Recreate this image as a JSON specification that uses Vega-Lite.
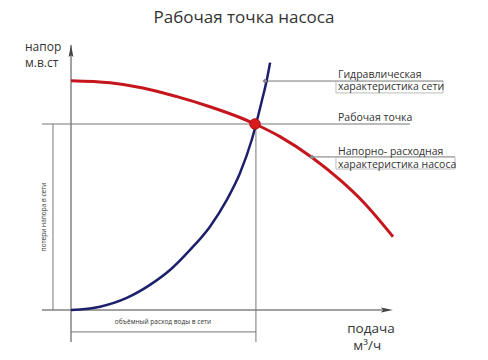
{
  "$schema": "https://vega.github.io/schema/vega-lite/v6.json",
  "width": 488,
  "height": 360,
  "autosize": {"type": "fit", "contains": "padding"},
  "padding": 0,
  "background": "white",
  "config": {"view": {"stroke": null}, "text": {"font": "Open Sans", "color": "#333"}},
  "datasets": {
    "segs": [
      {"k": "axis", "x": 0, "y": -1.72, "x2": 0, "y2": 14.25},
      {"k": "axis", "x": -1.58, "y": 0, "x2": 16.9, "y2": 0},
      {"k": "guide", "x": -1.58, "y": 10, "x2": 18.42, "y2": 10},
      {"k": "guide", "x": -0.98, "y": 0, "x2": -0.98, "y2": 10},
      {"k": "guide", "x": 10.05, "y": -1.72, "x2": 10.05, "y2": 10},
      {"k": "guide", "x": 0, "y": -1.18, "x2": 10.05, "y2": -1.18},
      {"k": "guide", "x": 10.54, "y": 12.31, "x2": 20.22, "y2": 12.31},
      {"k": "box", "x": 14.4, "y": 11.67, "x2": 20.22, "y2": 11.67},
      {"k": "box", "x": 14.4, "y": 11.67, "x2": 14.4, "y2": 12.31},
      {"k": "box", "x": 20.22, "y": 11.67, "x2": 20.22, "y2": 12.31},
      {"k": "guide", "x": 13.1, "y": 8.23, "x2": 20.87, "y2": 8.23},
      {"k": "box", "x": 14.4, "y": 7.58, "x2": 20.87, "y2": 7.58},
      {"k": "box", "x": 14.4, "y": 7.58, "x2": 14.4, "y2": 8.23},
      {"k": "box", "x": 20.87, "y": 7.58, "x2": 20.87, "y2": 8.23}
    ],
    "pump": [
      {"x": 0, "y": 12.33},
      {"x": 2.12, "y": 12.22},
      {"x": 3.91, "y": 11.94},
      {"x": 5.76, "y": 11.47},
      {"x": 7.55, "y": 10.93},
      {"x": 9.18, "y": 10.35},
      {"x": 10, "y": 10},
      {"x": 11.36, "y": 9.32},
      {"x": 13.08, "y": 8.21},
      {"x": 14.62, "y": 6.99},
      {"x": 15.87, "y": 5.82},
      {"x": 17.5, "y": 3.94}
    ],
    "network": [
      {"x": 0, "y": 0},
      {"x": 1.58, "y": 0.18},
      {"x": 3.03, "y": 0.65},
      {"x": 4.29, "y": 1.35},
      {"x": 5.38, "y": 2.15},
      {"x": 6.47, "y": 3.23},
      {"x": 7.55, "y": 4.48},
      {"x": 8.46, "y": 5.91},
      {"x": 9.18, "y": 7.35},
      {"x": 9.82, "y": 9.14},
      {"x": 10.36, "y": 11.2},
      {"x": 10.64, "y": 12.37},
      {"x": 10.82, "y": 13.3}
    ]
  },
  "encoding": {
    "x": {"field": "x", "type": "quantitative", "scale": {"domain": [-3.859, 22.663], "nice": false, "zero": false}, "axis": null},
    "y": {"field": "y", "type": "quantitative", "scale": {"domain": [-2.688, 16.667], "nice": false, "zero": false}, "axis": null}
  },
  "layer": [
    {
      "data": {"name": "segs"},
      "mark": {"type": "rule", "strokeWidth": 1},
      "encoding": {
        "x2": {"field": "x2"},
        "y2": {"field": "y2"},
        "color": {"field": "k", "type": "nominal", "scale": {"domain": ["axis", "guide", "box"], "range": ["#444444", "#777777", "#bbbbbb"]}, "legend": null}
      }
    },
    {
      "data": {"values": [{"x": 0, "y": 13.84, "d": "up"}, {"x": 17.09, "y": 0, "d": "right"}]},
      "mark": {"type": "point", "filled": true, "opacity": 1, "size": 225, "color": "#444444"},
      "encoding": {
        "shape": {"field": "d", "type": "nominal", "scale": {"domain": ["up", "right"], "range": ["M0,-1L0.32,0.6L0,0.35L-0.32,0.6Z", "M1,0L-0.6,0.32L-0.35,0L-0.6,-0.32Z"]}, "legend": null}
      }
    },
    {
      "data": {"name": "network"},
      "mark": {"type": "line", "color": "#1c1f6b", "strokeWidth": 2.5, "interpolate": "monotone"},
      "encoding": {}
    },
    {
      "data": {"name": "pump"},
      "mark": {"type": "line", "color": "#c4161c", "strokeWidth": 3, "interpolate": "monotone"},
      "encoding": {}
    },
    {
      "data": {"values": [{"x": 10.54, "y": 12.31}, {"x": 13.1, "y": 8.23}]},
      "mark": {"type": "point", "shape": "diamond", "filled": true, "opacity": 1, "size": 25, "color": "#888888"},
      "encoding": {}
    },
    {
      "data": {"values": [{"x": 10, "y": 10}]},
      "mark": {"type": "circle", "size": 110, "opacity": 1, "color": "#d81a1f", "stroke": "#b01015", "strokeWidth": 1},
      "encoding": {}
    },
    {
      "data": {"values": [{"x": 9.4, "y": 15.7, "t": "Рабочая точка насоса"}]},
      "mark": {"type": "text", "fontSize": 17, "align": "center", "baseline": "middle"},
      "encoding": {"text": {"field": "t"}}
    },
    {
      "data": {"values": [{"x": -2.5, "y": 14.14, "t": "напор"}, {"x": -2.5, "y": 13.28, "t": "м.в.ст"}]},
      "mark": {"type": "text", "fontSize": 12, "align": "left", "baseline": "middle"},
      "encoding": {"text": {"field": "t"}}
    },
    {
      "data": {"values": [{"x": 16.3, "y": -1.02, "t": "подача"}, {"x": 16.1, "y": -1.95, "t": "м³/ч"}]},
      "mark": {"type": "text", "fontSize": 13.5, "align": "center", "baseline": "middle"},
      "encoding": {"text": {"field": "t"}}
    },
    {
      "data": {"values": [
        {"x": 14.51, "y": 12.47, "t": "Гидравлическая"},
        {"x": 14.51, "y": 11.85, "t": "характеристика сети"},
        {"x": 14.51, "y": 10.16, "t": "Рабочая точка"},
        {"x": 14.51, "y": 8.33, "t": "Напорно- расходная"},
        {"x": 14.51, "y": 7.66, "t": "характеристика насоса"}
      ]},
      "mark": {"type": "text", "fontSize": 10.5, "align": "left", "baseline": "alphabetic"},
      "encoding": {"text": {"field": "t"}}
    },
    {
      "data": {"values": [{"x": 5.0, "y": -0.65, "t": "объёмный расход воды в сети"}]},
      "mark": {"type": "text", "fontSize": 6.5, "align": "center", "baseline": "middle"},
      "encoding": {"text": {"field": "t"}}
    },
    {
      "data": {"values": [{"x": -1.47, "y": 5.0, "t": "потери напора в сети"}]},
      "mark": {"type": "text", "fontSize": 6.5, "align": "center", "baseline": "middle", "angle": 270},
      "encoding": {"text": {"field": "t"}}
    }
  ]
}
